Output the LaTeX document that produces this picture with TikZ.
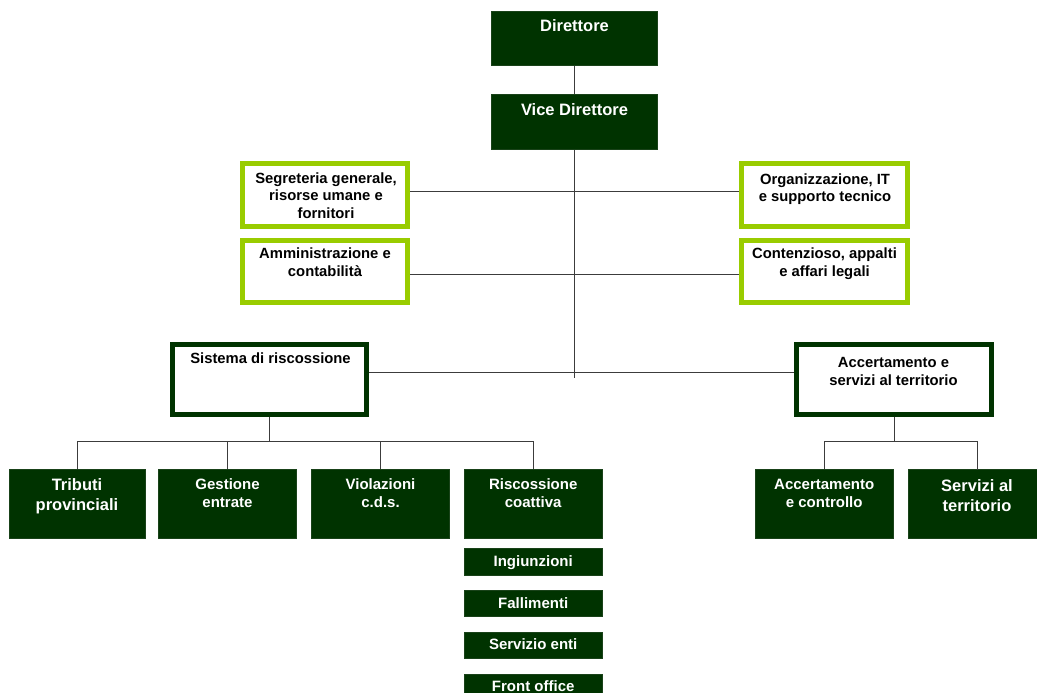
\documentclass[tikz,border=0pt]{standalone}
\usepackage{fontspec}
\setmainfont{Liberation Sans}
\usetikzlibrary{fit}
\definecolor{dgreen}{RGB}{0,51,0}
\definecolor{lgreen}{RGB}{153,204,0}
\definecolor{conn}{RGB}{60,60,60}
\tikzset{
  dbox/.style={rectangle, inner sep=0pt, fill=dgreen, draw=dgreen!80!gray, line width=0.6pt},
  lbox/.style={rectangle, inner sep=0pt, fill=white, draw=lgreen, line width=5pt},
  gbox/.style={rectangle, inner sep=0pt, fill=white, draw=dgreen, line width=5pt},
  wt/.style={anchor=base, inner sep=0pt, text=white, font=\fontsize{15}{18}\selectfont\bfseries},
  wtl/.style={anchor=base, inner sep=0pt, text=white, font=\fontsize{16.5}{20}\selectfont\bfseries},
  bt/.style={anchor=base, inner sep=0pt, text=black, font=\fontsize{14.8}{18}\selectfont\bfseries},
  link/.style={draw=conn, line width=1pt},
}
\begin{document}
\begin{tikzpicture}[x=1pt,y=-1pt]
\fill[white] (0,0) rectangle (1037,693);
\useasboundingbox (0,0) rectangle (1037,693);

% top boxes
\node[dbox, fit={(491.5,11.5) (657.5,65.5)}] (dir) {};
\node[wtl] (dirT) at (574.5,32) {Direttore};
\node[dbox, fit={(491.5,94.5) (657.5,149.5)}] (vice) {};
\node[wtl] (viceT) at (574.5,115) {Vice Direttore};

% staff boxes
\node[lbox, fit={(242,163.5) (407.5,226.5)}] (seg) {};
\node[bt] (seg1) at (326,183) {Segreteria generale,};
\node[bt] (seg2) at (326,200.5) {risorse umane e};
\node[bt] (seg3) at (326,218) {fornitori};
\node[lbox, fit={(242,240) (407.5,302.5)}] (amm) {};
\node[bt] (amm1) at (325,258.5) {Amministrazione e};
\node[bt] (amm2) at (325,276.5) {contabilità};
\node[lbox, fit={(741,163.5) (907.5,226.5)}] (org) {};
\node[bt] (org1) at (825,184) {Organizzazione, IT};
\node[bt] (org2) at (825,201) {e supporto tecnico};
\node[lbox, fit={(741,240) (907.5,302.5)}] (con) {};
\node[bt] (con1) at (824.5,258.5) {Contenzioso, appalti};
\node[bt] (con2) at (824.5,276.5) {e affari legali};

% area boxes
\node[gbox, fit={(172.5,344.5) (366.5,414)}] (sis) {};
\node[bt] (sisT) at (270.5,363) {Sistema di riscossione};
\node[gbox, fit={(796.5,344.5) (991.5,414)}] (acc) {};
\node[bt] (acc1) at (893.5,367) {Accertamento e};
\node[bt] (acc2) at (893.5,385) {servizi al territorio};

% bottom boxes
\node[dbox, fit={(9,469.5) (145,538)}] (trib) {};
\node[wtl] (trib1) at (77,490.5) {Tributi};
\node[wtl] (trib2) at (77,510.5) {provinciali};
\node[dbox, fit={(158.5,469.5) (296.5,538)}] (gest) {};
\node[wt] (gest1) at (227.5,489.5) {Gestione};
\node[wt] (gest2) at (227.5,507.5) {entrate};
\node[dbox, fit={(311.5,469.5) (449.5,538)}] (viol) {};
\node[wt] (viol1) at (380.5,489.5) {Violazioni};
\node[wt] (viol2) at (380.5,507.5) {c.d.s.};
\node[dbox, fit={(464.5,469.5) (602,538)}] (risc) {};
\node[wt] (risc1) at (533.2,489.5) {Riscossione};
\node[wt] (risc2) at (533.2,507.5) {coattiva};
\node[dbox, fit={(755,469.5) (893.5,538)}] (accc) {};
\node[wt] (accc1) at (824.2,489.5) {Accertamento};
\node[wt] (accc2) at (824.2,507.5) {e controllo};
\node[dbox, fit={(908.5,469.5) (1037,538)}] (serv) {};
\node[wtl] (serv1) at (977,491) {Servizi al};
\node[wtl] (serv2) at (977,511) {territorio};

% sub boxes
\node[dbox, fit={(464.5,548) (602,575)}] (ing) {};
\node[wt] (ingT) at (533.2,566) {Ingiunzioni};
\node[dbox, fit={(464.5,590) (602,616.5)}] (fal) {};
\node[wt] (falT) at (533.2,608) {Fallimenti};
\node[dbox, fit={(464.5,632) (602,658.5)}] (sen) {};
\node[wt] (senT) at (533.2,649.5) {Servizio enti};
\node[dbox, fit={(464.5,674) (602,693.5)}] (fro) {};
\node[wt] (froT) at (533.2,691.5) {Front office};

% connectors
\coordinate (vend) at (574.5,378);
\coordinate (r1) at (574.5,191.5);
\coordinate (r2) at (574.5,274);
\coordinate (r3) at (574.5,372.5);
\coordinate (hl) at (269.5,441);
\coordinate (hr) at (894,441);
\coordinate (servtop) at (977,469.5);
\draw[link] (dir.south) -- (vice.north);
\draw[link] (vice.south) -- (vend);
\draw[link] (seg.east |- r1) -- (org.west |- r1);
\draw[link] (amm.east |- r2) -- (con.west |- r2);
\draw[link] (sis.east |- r3) -- (acc.west |- r3);
\draw[link] (sis.south) -- (hl);
\draw[link] (trib.north) -- (trib.north |- hl) -- (risc.north |- hl) -- (risc.north);
\draw[link] (gest.north) -- (gest.north |- hl);
\draw[link] (viol.north) -- (viol.north |- hl);
\draw[link] (acc.south) -- (hr);
\draw[link] (accc.north) -- (accc.north |- hr) -- (servtop |- hr) -- (servtop);
\end{tikzpicture}
\end{document}
